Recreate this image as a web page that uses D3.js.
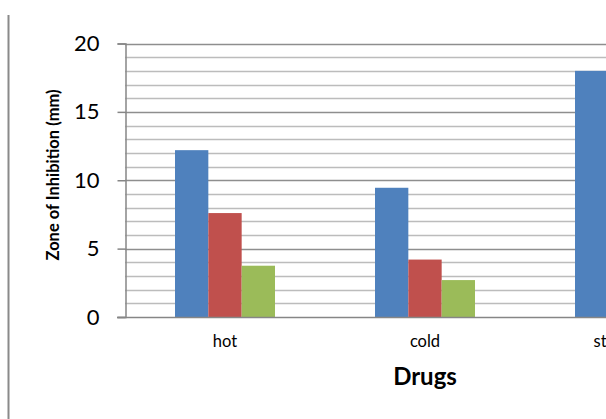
<!DOCTYPE html>
<html>
<head>
<meta charset="utf-8">
<script src="https://cdn.jsdelivr.net/npm/d3@7"></script>
<style>
  html, body { margin: 0; padding: 0; background: #fff; overflow: hidden; }
  svg { display: block; font-family: Lato, "Open Sans", sans-serif; }
</style>
</head>
<body>
<svg id="chart" width="606" height="419"></svg>
<script>
const categories = ["hot", "cold", "standard"];
const seriesNames = ["Series 1", "Series 2", "Series 3"];
const series1 = [12.2, 9.45, 18.0];
const series2 = [7.6, 4.2, null];
const series3 = [3.75, 2.7, null];
const yTicks = [0, 5, 10, 15, 20];
const yMinorTicks = d3.range(0, 21, 1);
const colors = ["#4f81bd", "#c0504d", "#9bbb59"];

const allSeries = [series1, series2, series3];
const svg = d3.select("#chart");

const x0 = d3.scaleBand().domain(categories).range([125, 725]).paddingInner(0.5).paddingOuter(0.25);
const x1 = d3.scaleBand().domain(seriesNames).range([0, x0.bandwidth()]);
const y = d3.scaleLinear().domain([0, 20]).range([317, 43.5]);

// outer frame line at left
svg.append("line").attr("x1", 8.5).attr("x2", 8.5).attr("y1", 15).attr("y2", 419)
  .attr("stroke", "#8a8a8a").attr("stroke-width", 2);

// minor gridlines
svg.append("g").selectAll("line").data(yMinorTicks.filter(d => d % 5 !== 0)).join("line")
  .attr("x1", 125).attr("x2", 725)
  .attr("y1", d => Math.round(y(d)) + 0.5).attr("y2", d => Math.round(y(d)) + 0.5)
  .attr("stroke", "#bcbcbc").attr("stroke-width", 1.4);

// major gridlines
svg.append("g").selectAll("line").data(yTicks.filter(d => d > 0)).join("line")
  .attr("x1", 125).attr("x2", 725)
  .attr("y1", d => Math.round(y(d)) + 0.5).attr("y2", d => Math.round(y(d)) + 0.5)
  .attr("stroke", "#8e8e8e").attr("stroke-width", 1.4);

// bars
const groups = svg.append("g").selectAll("g").data(categories).join("g")
  .attr("transform", d => `translate(${x0(d)},0)`);
groups.selectAll("rect")
  .data((c, i) => seriesNames.map((s, j) => ({ s, v: allSeries[j][i], j })).filter(d => d.v != null))
  .join("rect")
  .attr("x", d => x1(d.s))
  .attr("width", x1.bandwidth())
  .attr("y", d => y(d.v))
  .attr("height", d => y(0) - y(d.v))
  .attr("fill", d => colors[d.j]);

// y axis
const yAxis = d3.axisLeft(y).tickValues(yTicks).tickSize(8).tickPadding(18).tickFormat(d3.format("d"));
const gy = svg.append("g").attr("transform", "translate(125.5,0)").call(yAxis);
gy.select(".domain").attr("stroke", "#868686").attr("stroke-width", 1.5);
gy.selectAll(".tick line").attr("stroke", "#868686").attr("stroke-width", 1.5);
gy.selectAll(".tick text").attr("font-size", 22).attr("fill", "#000")
  .attr("font-family", "Lato, 'Open Sans', sans-serif");

// x axis
const xAxis = d3.axisBottom(x0).tickSize(0).tickPadding(18);
const gx = svg.append("g").attr("transform", "translate(0,317.5)").call(xAxis);
gx.select(".domain").remove();
gx.append("line").attr("x1", 117).attr("x2", 725).attr("y1", 0).attr("y2", 0)
  .attr("stroke", "#868686").attr("stroke-width", 1.5);
gx.selectAll(".tick text").attr("font-size", 16.5).attr("fill", "#000")
  .attr("font-family", "Lato, 'Open Sans', sans-serif");

// axis titles
svg.append("text").attr("x", 425).attr("y", 385).attr("text-anchor", "middle")
  .attr("font-size", 24).attr("font-weight", "bold").text("Drugs");
svg.append("text").attr("transform", "translate(59,175) rotate(-90)")
  .attr("text-anchor", "middle").attr("font-size", 16.5).attr("font-weight", "bold")
  .text("Zone of Inhibition (mm)");
</script>
</body>
</html>
